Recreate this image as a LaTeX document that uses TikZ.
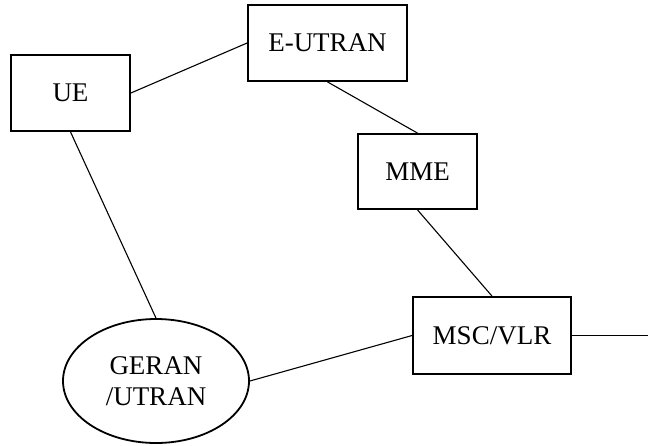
\documentclass[tikz,border=0pt]{standalone}
\usepackage{fontspec}
\setmainfont{Liberation Serif}
\usetikzlibrary{shapes.geometric}
\begin{document}
\begin{tikzpicture}[x=1pt,y=-1pt,
  netbox/.style={draw,line width=1.8pt,rectangle,inner sep=0pt,anchor=center,font=\fontsize{27}{30}\selectfont},
  netoval/.style={draw,line width=1.8pt,ellipse,inner sep=0pt,align=center,font=\fontsize{27}{31}\selectfont},
  link/.style={line width=1.1pt}]
\useasboundingbox (0,0) rectangle (648,445);
\node[netbox,minimum width=119pt,minimum height=76pt] (ue) at (70.5,93) {UE};
\node[netbox,minimum width=159pt,minimum height=76pt] (eutran) at (327.5,43) {E-UTRAN};
\node[netbox,minimum width=119pt,minimum height=75pt] (mme) at (417.5,171.5) {MME};
\node[netbox,minimum width=158pt,minimum height=77pt] (msc) at (492,335.5) {MSC/VLR};
\node[netoval,minimum width=186pt,minimum height=124pt] (geran) at (156,381) {GERAN\\/UTRAN};
\coordinate (out) at (648,335.5);
\draw[link] (ue.east) -- (eutran.west);
\draw[link] (eutran.south) -- (mme.north);
\draw[link] (mme.south) -- (msc.north);
\draw[link] (ue.south) -- (geran.north);
\draw[link] (geran.east) -- (msc.west);
\draw[link] (msc.east) -- (out);
\end{tikzpicture}
\end{document}
